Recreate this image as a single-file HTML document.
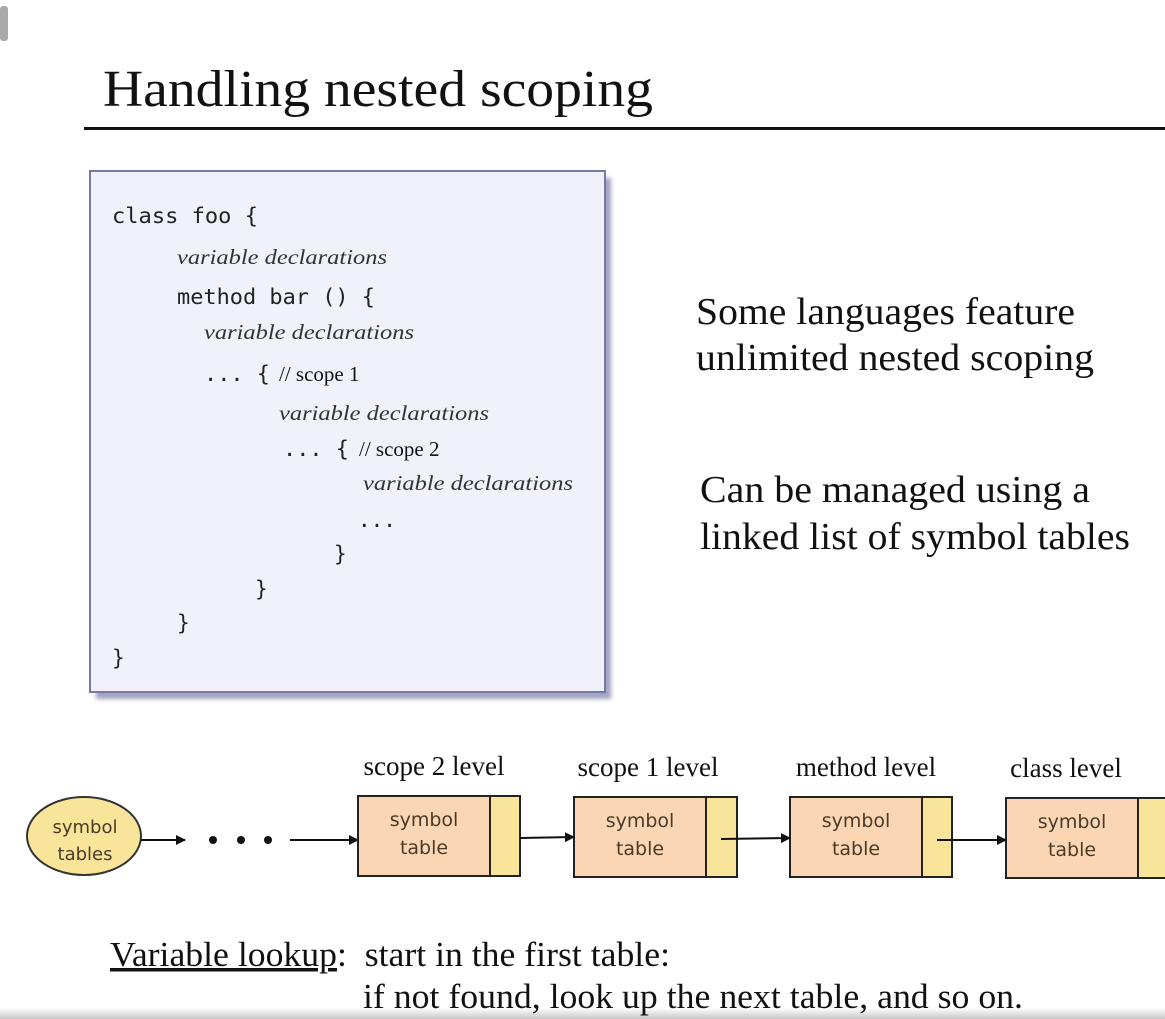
<!DOCTYPE html>
<html><head><meta charset="utf-8"><style>
html,body{margin:0;padding:0;background:#fff;}
svg{display:block;}
.serif{font-family:"Liberation Serif",serif;fill:#111;}
.mono{font-family:"DejaVu Sans Mono","Liberation Mono",monospace;fill:#222;}
.it{font-family:"Liberation Serif",serif;font-style:italic;fill:#333;}
.sans{font-family:"DejaVu Sans","Liberation Sans",sans-serif;fill:#4a3a28;}
</style></head><body>
<svg width="1165" height="1019" viewBox="0 0 1165 1019" xmlns="http://www.w3.org/2000/svg">
<defs>
<linearGradient id="bot" x1="0" y1="0" x2="0" y2="1"><stop offset="0" stop-color="#fff"/><stop offset="1" stop-color="#c8c8c8"/></linearGradient>
<filter id="bl"><feGaussianBlur stdDeviation="2"/></filter>
<marker id="ar" markerWidth="10" markerHeight="10" refX="9" refY="5" orient="auto" markerUnits="userSpaceOnUse"><path d="M0,0 L10,5 L0,10 z" fill="#111"/></marker>
</defs>
<rect x="0" y="1008" width="1165" height="11" fill="url(#bot)"/>
<rect x="0" y="6" width="8" height="35" rx="3" fill="#aaa"/>
<text class="serif" x="103" y="106" font-size="52" textLength="550" lengthAdjust="spacingAndGlyphs">Handling nested scoping</text>
<rect x="84" y="127" width="1081" height="3" fill="#111"/>
<!-- code box -->
<rect x="96" y="178" width="515" height="521" fill="#7a7aa8" opacity="0.7" filter="url(#bl)"/>
<rect x="90" y="171" width="515" height="521" fill="#f1f1fa" stroke="#7878a8" stroke-width="2"/>
<text class="mono" x="112" y="223" font-size="21" textLength="146" lengthAdjust="spacingAndGlyphs">class foo {</text>
<text class="it" x="177" y="264" font-size="21" textLength="210" lengthAdjust="spacingAndGlyphs">variable declarations</text>
<text class="mono" x="177" y="304" font-size="21" textLength="198" lengthAdjust="spacingAndGlyphs">method bar () {</text>
<text class="it" x="204" y="339" font-size="21" textLength="210" lengthAdjust="spacingAndGlyphs">variable declarations</text>
<text class="mono" x="204" y="381" font-size="21" textLength="66" lengthAdjust="spacingAndGlyphs">... {</text>
<text class="serif" x="279" y="381" font-size="21">// scope 1</text>
<text class="it" x="279" y="420" font-size="21" textLength="210" lengthAdjust="spacingAndGlyphs">variable declarations</text>
<text class="mono" x="283" y="456" font-size="21" textLength="66" lengthAdjust="spacingAndGlyphs">... {</text>
<text class="serif" x="359" y="456" font-size="21">// scope 2</text>
<text class="it" x="363" y="490" font-size="21" textLength="210" lengthAdjust="spacingAndGlyphs">variable declarations</text>
<text class="mono" x="358" y="527" font-size="21">...</text>
<text class="mono" x="334" y="561" font-size="21">}</text>
<text class="mono" x="255" y="596" font-size="21">}</text>
<text class="mono" x="177" y="630" font-size="21">}</text>
<text class="mono" x="112" y="665" font-size="21">}</text>
<!-- right text -->
<text class="serif" x="696" y="324" font-size="38" textLength="379" lengthAdjust="spacingAndGlyphs">Some languages feature</text>
<text class="serif" x="696" y="370" font-size="38" textLength="398" lengthAdjust="spacingAndGlyphs">unlimited nested scoping</text>
<text class="serif" x="700" y="502" font-size="38" textLength="390" lengthAdjust="spacingAndGlyphs">Can be managed using a</text>
<text class="serif" x="700" y="549" font-size="38" textLength="430" lengthAdjust="spacingAndGlyphs">linked list of symbol tables</text>
<!-- list -->
<ellipse cx="84" cy="836" rx="57" ry="39" fill="#f8e59a" stroke="#333" stroke-width="2"/>
<text class="sans" x="85" y="833" font-size="18" text-anchor="middle">symbol</text>
<text class="sans" x="85" y="860" font-size="18" text-anchor="middle">tables</text>
<line x1="141" y1="840" x2="185" y2="840" stroke="#111" stroke-width="2" marker-end="url(#ar)"/>
<circle cx="213" cy="840" r="4" fill="#111"/><circle cx="241" cy="840" r="4" fill="#111"/><circle cx="268" cy="840" r="4" fill="#111"/>
<line x1="290" y1="840" x2="358" y2="840" stroke="#111" stroke-width="2" marker-end="url(#ar)"/>
<g stroke="#222" stroke-width="2">
<rect x="358" y="796" width="132" height="80" fill="#fad6b4"/><rect x="490" y="796" width="30" height="80" fill="#f8e59a"/>
<rect x="574" y="797" width="132" height="80" fill="#fad6b4"/><rect x="706" y="797" width="31" height="80" fill="#f8e59a"/>
<rect x="790" y="797" width="132" height="80" fill="#fad6b4"/><rect x="922" y="797" width="30" height="80" fill="#f8e59a"/>
<rect x="1006" y="798" width="132" height="80" fill="#fad6b4"/><rect x="1138" y="798" width="30" height="80" fill="#f8e59a"/>
</g>
<line x1="520" y1="838" x2="574" y2="837" stroke="#111" stroke-width="2" marker-end="url(#ar)"/>
<line x1="721" y1="839" x2="790" y2="838" stroke="#111" stroke-width="2" marker-end="url(#ar)"/>
<line x1="937" y1="840" x2="1006" y2="840" stroke="#111" stroke-width="2" marker-end="url(#ar)"/>
<g class="sans" font-size="19" text-anchor="middle">
<text x="424" y="826">symbol</text><text x="424" y="854">table</text>
<text x="640" y="827">symbol</text><text x="640" y="855">table</text>
<text x="856" y="827">symbol</text><text x="856" y="855">table</text>
<text x="1072" y="828">symbol</text><text x="1072" y="856">table</text>
</g>
<g class="serif" font-size="27" text-anchor="middle">
<text x="434" y="775">scope 2 level</text>
<text x="648" y="776">scope 1 level</text>
<text x="866" y="776">method level</text>
<text x="1066" y="777">class level</text>
</g>
<text class="serif" x="110" y="966" font-size="35" textLength="560" lengthAdjust="spacingAndGlyphs" xml:space="preserve"><tspan text-decoration="underline">Variable lookup</tspan>:  start in the first table:</text>
<text class="serif" x="363" y="1008" font-size="35" textLength="660" lengthAdjust="spacingAndGlyphs">if not found, look up the next table, and so on.</text>
</svg>
</body></html>
